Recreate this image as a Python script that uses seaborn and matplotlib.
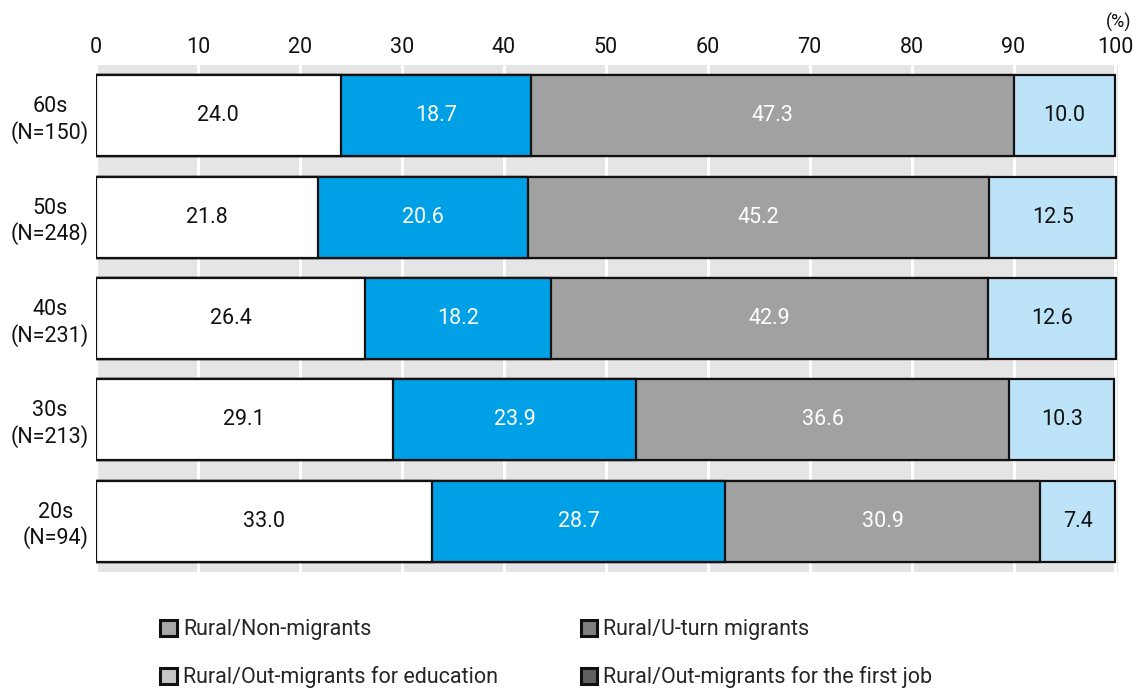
import matplotlib
matplotlib.use("Agg")
import matplotlib.pyplot as plt
from matplotlib.patches import Patch
import numpy as np
import pandas as pd
import seaborn as sns

# Age groups (top to bottom) with sample sizes
groups = ["60s\n(N=150)", "50s\n(N=248)", "40s\n(N=231)", "30s\n(N=213)", "20s\n(N=94)"]

# Share of each migration type (%)
non_migrants = [24.0, 21.8, 26.4, 29.1, 33.0]
uturn_migrants = [18.7, 20.6, 18.2, 23.9, 28.7]
out_education = [47.3, 45.2, 42.9, 36.6, 30.9]
out_first_job = [10.0, 12.5, 12.6, 10.3, 7.4]

series_names = [
    "Rural/Non-migrants",
    "Rural/U-turn migrants",
    "Rural/Out-migrants for education",
    "Rural/Out-migrants for the first job",
]
series_values = [non_migrants, uturn_migrants, out_education, out_first_job]

bar_colors = ["#ffffff", "#00a0e6", "#a0a1a0", "#bde3f8"]
text_colors = ["#111111", "#ffffff", "#ffffff", "#111111"]
legend_colors = ["#a8a8a8", "#808080", "#c6c6c6", "#606060"]

FS = 15.5

sns.set_theme(style="white")
plt.rcParams["font.family"] = ["Roboto", "DejaVu Sans"]

df = pd.DataFrame({"group": groups})
for name, vals in zip(series_names, series_values):
    df[name] = vals

cum = df[series_names].cumsum(axis=1)

fig = plt.figure(figsize=(11.33, 6.9), dpi=100)
ax = fig.add_axes([96 / 1133, 1 - 572 / 690, (1118 - 96) / 1133, (572 - 65) / 690])
ax.set_facecolor("#e5e5e5")

# Stacked bars: draw cumulative totals from the outermost segment inward
for i in range(len(series_names) - 1, -1, -1):
    sns.barplot(
        data=cum.assign(group=groups), x=series_names[i], y="group",
        orient="h", color=bar_colors[i], saturation=1, width=0.8,
        edgecolor="#111111", linewidth=1.6, ax=ax, zorder=3,
    )

# Value labels centred in each segment
for i, name in enumerate(series_names):
    left = cum[name] - df[name]
    for j, v in enumerate(df[name]):
        ax.text(left[j] + v / 2, j, f"{v:.1f}", ha="center", va="center",
                fontsize=FS, color=text_colors[i], zorder=5)

ax.set_xlim(0, 100.25)
ax.set_ylim(4.5, -0.5)
ax.set_xticks(np.arange(0, 101, 10))
ax.xaxis.tick_top()
ax.tick_params(axis="x", length=0, pad=5, labelsize=FS, colors="#111111")
ax.tick_params(axis="y", length=0, pad=5, labelsize=FS, colors="#111111")
for t in ax.get_yticklabels():
    t.set_multialignment("center")
ax.set_xlabel("")
ax.set_ylabel("")
ax.grid(axis="x", color="white", linewidth=2.2, zorder=1)
ax.set_axisbelow(True)
for s in ax.spines.values():
    s.set_visible(False)

fig.text(1131 / 1133, 1 - 22 / 690, "(%)", ha="right", va="center",
         fontsize=13, color="#111111")

# Legend laid out row by row (matplotlib fills columns first)
order = [0, 2, 1, 3]
handles = [Patch(facecolor=legend_colors[k], edgecolor="#111111", linewidth=2.2) for k in order]
labels = [series_names[k] for k in order]
fig.legend(handles, labels, ncol=2, loc="upper left",
           bbox_to_anchor=(141 / 1133, 1 - 600 / 690), frameon=False,
           fontsize=FS, handlelength=0.75, handleheight=0.75, handletextpad=0.3,
           labelspacing=1.2, columnspacing=3.85)

fig.savefig("out.png", dpi=100)
